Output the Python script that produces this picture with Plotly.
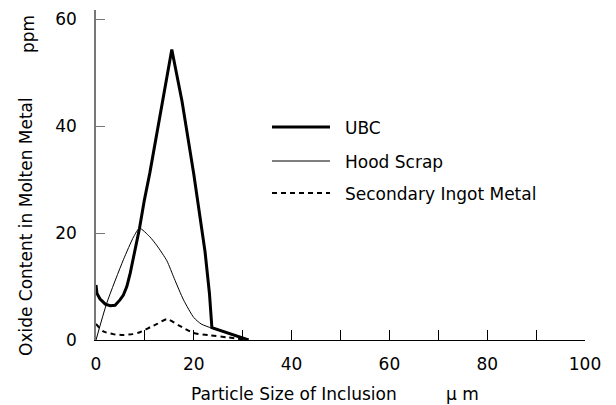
import plotly.graph_objects as go

# ---- data ----
series_names = ["UBC", "Hood Scrap", "Secondary Ingot Metal"]

ubc_x = [0, 0.2, 0.8, 1.9, 2.9, 3.9, 4.9, 5.6, 6.3, 7.0, 7.7, 8.9, 9.9, 11.0,
         15.5, 17.6, 20.0, 22.3, 23.2, 23.7, 31.2]
ubc_y = [10.3, 8.7, 7.7, 6.7, 6.4, 6.5, 7.5, 8.4, 10.0, 12.5, 15.6, 20.9, 26.2, 31.2,
         54.3, 44.6, 31.0, 16.5, 8.7, 2.3, 0]

hood_x = [0, 2.2, 5.6, 7.7, 8.9, 11.0, 12.5, 14.5, 16.0, 17.9, 20.0, 21.5, 23.7, 31.2]
hood_y = [0, 6.9, 15.0, 19.3, 20.9, 19.3, 17.6, 14.8, 11.5, 7.5, 4.2, 3.0, 2.2, 0]

sec_x = [0, 1.5, 3.5, 5.6, 7.5, 9.1, 11.1, 12.5, 14.5, 17.0, 20.0, 23.0, 26.8, 31.0]
sec_y = [3.0, 1.6, 1.1, 0.95, 1.1, 1.5, 2.4, 3.0, 3.9, 2.7, 1.3, 0.9, 0.5, 0]

x_ticks = [0, 20, 40, 60, 80, 100]
y_ticks = [0, 20, 40, 60]

x_title = "Particle Size of Inclusion"
x_unit = "μ m"
y_title = "Oxide Content in Molten Metal"
y_unit = "ppm"

FONT = "DejaVu Sans"
FS = 17

W, H = 616, 405
ML, MR, MT, MB = 96, 31, 10, 65
PW, PH = W - ML - MR, H - MT - MB


def px(xp):
    return (xp - ML) / PW


def py(yp):
    return (MT + PH - yp) / PH


styles = [
    dict(color="black", width=3),
    dict(color="black", width=1),
    dict(color="black", width=2, dash="5px,4px"),
]
shapes_kind = ["linear", "spline", "spline"]

fig = go.Figure()
for name, xs, ys, st, kind in zip(series_names, [ubc_x, hood_x, sec_x], [ubc_y, hood_y, sec_y],
                                  styles, shapes_kind):
    line = dict(st)
    line["shape"] = kind
    if kind == "spline":
        line["smoothing"] = 0.6
    fig.add_trace(go.Scatter(x=xs, y=ys, mode="lines", name=name, line=line,
                             showlegend=False, hoverinfo="skip"))

# manual legend
rows = [127, 161, 193]
shapes = []
annotations = []
for name, st, ry in zip(series_names, styles, rows):
    ln = dict(color=st["color"], width=st["width"])
    if "dash" in st:
        ln["dash"] = st["dash"]
    shapes.append(dict(type="line", xref="paper", yref="paper",
                       x0=px(272), x1=px(330), y0=py(ry), y1=py(ry), line=ln))
    annotations.append(dict(text=name, xref="paper", yref="paper", x=px(343), y=py(ry + 1),
                            xanchor="left", yanchor="middle", showarrow=False,
                            font=dict(family=FONT, size=FS, color="black")))

annotations += [
    dict(text=x_title, xref="paper", yref="paper", x=px(294), y=py(394),
         xanchor="center", yanchor="middle", showarrow=False,
         font=dict(family=FONT, size=FS, color="black")),
    dict(text=x_unit, xref="paper", yref="paper", x=px(462), y=py(394),
         xanchor="center", yanchor="middle", showarrow=False,
         font=dict(family=FONT, size=FS, color="black")),
    dict(text=y_title, xref="paper", yref="paper", x=px(26), y=py(227),
         xanchor="center", yanchor="middle", showarrow=False, textangle=-90,
         font=dict(family=FONT, size=FS, color="black")),
    dict(text=y_unit, xref="paper", yref="paper", x=px(28), y=py(34),
         xanchor="center", yanchor="middle", showarrow=False, textangle=-90,
         font=dict(family=FONT, size=FS, color="black")),
]

fig.update_layout(
    width=W, height=H, autosize=False,
    margin=dict(l=ML, r=MR, t=MT, b=MB, pad=0),
    paper_bgcolor="white", plot_bgcolor="white",
    font=dict(family=FONT, size=FS, color="black"),
    shapes=shapes, annotations=annotations,
    xaxis=dict(range=[0, 100], tickmode="array", tickvals=x_ticks,
               ticktext=[str(v) for v in x_ticks],
               ticks="inside", ticklen=10, tickcolor="black", tickwidth=1,
               minor=dict(dtick=10, ticks="inside", ticklen=10, tickcolor="black", tickwidth=1),
               showline=True, linecolor="black", linewidth=1.2,
               showgrid=False, zeroline=False, ticklabelstandoff=8,
               tickfont=dict(family=FONT, size=FS, color="black")),
    yaxis=dict(range=[0, 61.7], tickmode="array", tickvals=y_ticks,
               ticktext=[str(v) for v in y_ticks],
               ticks="inside", ticklen=9, tickcolor="#777777", tickwidth=1,
               showline=True, linecolor="#777777", linewidth=1.5,
               showgrid=False, zeroline=False, ticklabelstandoff=14,
               tickfont=dict(family=FONT, size=FS, color="black")),
)

fig.write_html("out.html")
